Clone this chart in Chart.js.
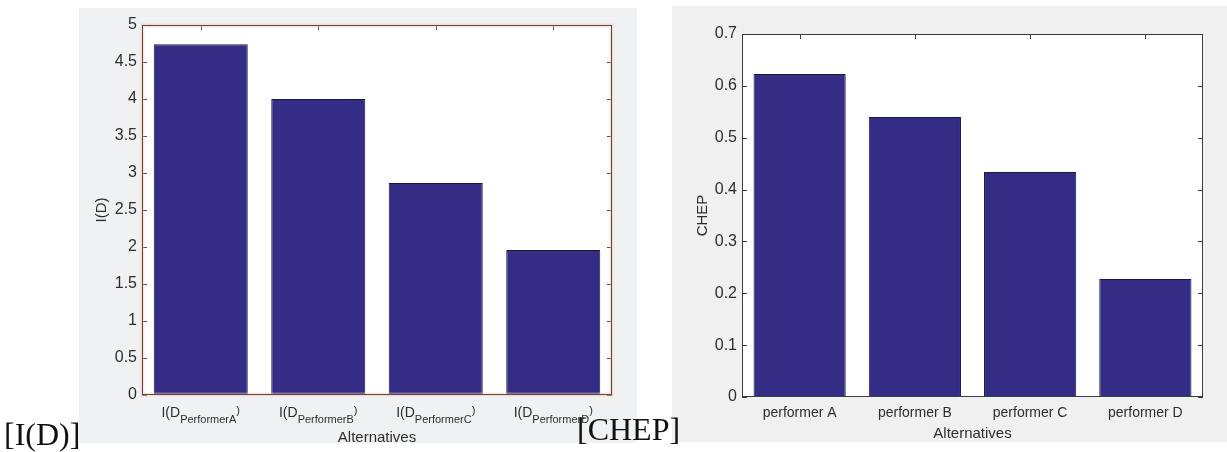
<!DOCTYPE html>
<html lang="en">
<head>
    <meta charset="UTF-8">
    <title>I(D) and CHEP</title>
    <script src="https://cdn.jsdelivr.net/npm/chart.js"></script>
    <style>
        body {
            margin: 0;
            background: #fff;
            width: 1227px;
            height: 452px;
            overflow: hidden;
            position: relative;
            font-family: 'Liberation Sans', Arial, sans-serif;
        }
        .panel {
            position: absolute;
        }
        #leftPanel {
            left: 79px; top: 8px; width: 558px; height: 435px;
            background: #eff1f2;
        }
        #rightPanel {
            left: 672px; top: 6px; width: 555px; height: 436px;
            background: #f0f0f0;
        }
        .tag {
            position: absolute;
            font-family: 'Liberation Serif', 'DejaVu Serif', serif;
            font-size: 32px;
            line-height: 32px;
            color: #111;
        }
    </style>
</head>
<body>

    <div class="panel" id="leftPanel"><canvas id="idChart"></canvas></div>
    <div class="panel" id="rightPanel"><canvas id="chepChart"></canvas></div>
    <div class="tag" style="left: 4px; top: 418px;">[I(D)]</div>
    <div class="tag" style="left: 577px; top: 413px;">[CHEP]</div>

    <script>
        // data
        const idSubscripts = ['PerformerA', 'PerformerB', 'PerformerC', 'PerformerD'];
        const idValues = [4.74, 4.0, 2.865, 1.96];

        const chepLabels = ['performer A', 'performer B', 'performer C', 'performer D'];
        const chepValues = [0.623, 0.540, 0.434, 0.2275];

        const barFill = '#352d85';
        const textColor = '#2e2e2e';
        const sans = "'Liberation Sans', Arial, sans-serif";

        // white plot area, inward ticks (behind bars), box on top
        const boxPlugin = {
            id: 'box',
            beforeDraw(chart) {
                const { ctx, chartArea: a } = chart;
                ctx.save();
                ctx.fillStyle = '#fff';
                ctx.fillRect(a.left, a.top, a.width, a.height);
                ctx.restore();
            },
            beforeDatasetsDraw(chart, args, opts) {
                const { ctx, chartArea: a, scales: { x, y } } = chart;
                const len = 5;
                ctx.save();
                ctx.strokeStyle = opts.color;
                ctx.lineWidth = 1;
                ctx.beginPath();
                y.ticks.forEach((t, i) => {
                    const py = Math.round(y.getPixelForTick(i)) + 0.5;
                    ctx.moveTo(a.left, py); ctx.lineTo(a.left + len, py);
                    ctx.moveTo(a.right, py); ctx.lineTo(a.right - len, py);
                });
                x.ticks.forEach((t, i) => {
                    const px = Math.round(x.getPixelForTick(i)) + 0.5;
                    ctx.moveTo(px, a.top); ctx.lineTo(px, a.top + len);
                    ctx.moveTo(px, a.bottom); ctx.lineTo(px, a.bottom - len);
                });
                ctx.stroke();
                ctx.restore();
            },
            afterDraw(chart, args, opts) {
                const { ctx, chartArea: a } = chart;
                ctx.save();
                if (opts.halo) {
                    ctx.strokeStyle = opts.halo;
                    ctx.lineWidth = 4;
                    ctx.strokeRect(a.left + 0.5, a.top + 0.5, a.width - 1, a.height - 1);
                }
                ctx.strokeStyle = opts.color;
                ctx.lineWidth = 1;
                ctx.strokeRect(a.left + 0.5, a.top + 0.5, a.width - 1, a.height - 1);
                ctx.restore();
            }
        };

        // I(D_PerformerX) labels with subscript
        const subLabelPlugin = {
            id: 'subLabels',
            afterDraw(chart) {
                if (!chart.options.plugins.subLabels.enabled) return;
                const { ctx, chartArea: a, scales: { x } } = chart;
                const base = a.bottom + 22;
                ctx.save();
                ctx.fillStyle = textColor;
                ctx.textBaseline = 'alphabetic';
                ctx.textAlign = 'left';
                idSubscripts.forEach((s, i) => {
                    const cx = x.getPixelForTick(i);
                    ctx.font = '14px ' + sans;
                    const wMain = ctx.measureText('I(D').width;
                    ctx.font = '11px ' + sans;
                    const wSub = ctx.measureText(s).width;
                    const wPar = ctx.measureText(')').width;
                    let px = cx - (wMain + wSub + wPar) / 2;
                    ctx.font = '14px ' + sans;
                    ctx.fillText('I(D', px, base);
                    px += wMain;
                    ctx.font = '11px ' + sans;
                    ctx.fillText(s, px, base + 6);
                    px += wSub;
                    ctx.fillText(')', px, base - 3);
                });
                ctx.restore();
            }
        };

        function fmt(v) {
            return String(+Number(v).toFixed(2));
        }

        function renderChart(canvasId, cfg) {
            const ctx = document.getElementById(canvasId).getContext('2d');
            return new Chart(ctx, {
                type: 'bar',
                data: {
                    labels: cfg.labels,
                    datasets: [{
                        data: cfg.values,
                        backgroundColor: barFill,
                        borderColor: '#1c1a3c',
                        borderWidth: 1,
                        borderSkipped: false,
                        barPercentage: 0.8,
                        categoryPercentage: 1.0
                    }]
                },
                options: {
                    responsive: false,
                    animation: false,
                    maintainAspectRatio: false,
                    layout: { padding: cfg.padding },
                    plugins: {
                        legend: { display: false },
                        tooltip: { enabled: false },
                        box: { color: cfg.axisColor, halo: cfg.halo },
                        subLabels: { enabled: cfg.subLabels }
                    },
                    scales: {
                        x: {
                            grid: { display: false, drawTicks: false },
                            border: { display: false },
                            ticks: {
                                display: !cfg.subLabels,
                                color: textColor,
                                font: { family: sans, size: 14 },
                                padding: 8,
                                maxRotation: 0
                            },
                            title: {
                                display: true,
                                text: 'Alternatives',
                                color: textColor,
                                font: { family: sans, size: 15 },
                                padding: { top: 0, bottom: cfg.xTitlePad }
                            },
                            afterFit: s => { s.height = cfg.xHeight; }
                        },
                        y: {
                            min: 0,
                            max: cfg.yMax,
                            grid: { display: false, drawTicks: false },
                            border: { display: false },
                            ticks: {
                                stepSize: cfg.yStep,
                                color: textColor,
                                font: { family: sans, size: 16 },
                                padding: 5,
                                callback: v => fmt(v)
                            },
                            title: {
                                display: true,
                                text: cfg.yTitle,
                                color: textColor,
                                font: { family: sans, size: 15 },
                                padding: { top: cfg.yTitlePad, bottom: 0 }
                            },
                            afterFit: s => { s.width = cfg.yWidth; }
                        }
                    }
                },
                plugins: [boxPlugin, subLabelPlugin]
            });
        }

        const c1 = document.getElementById('idChart');
        c1.width = 558; c1.height = 435;
        renderChart('idChart', {
            labels: idSubscripts.map(s => 'I(D_' + s + ')'),
            values: idValues,
            yMax: 5,
            yStep: 0.5,
            yTitle: 'I(D)',
            padding: { top: 17, right: 25, left: 0, bottom: 0 },
            yWidth: 63,
            xHeight: 48,
            yTitlePad: 14,
            xTitlePad: -4,
            axisColor: '#5e463f',
            halo: 'rgba(240, 200, 188, 0.45)',
            subLabels: true
        });

        const c2 = document.getElementById('chepChart');
        c2.width = 555; c2.height = 436;
        renderChart('chepChart', {
            labels: chepLabels,
            values: chepValues,
            yMax: 0.7,
            yStep: 0.1,
            yTitle: 'CHEP',
            padding: { top: 28, right: 24, left: 0, bottom: 0 },
            yWidth: 70,
            xHeight: 45,
            yTitlePad: 22,
            xTitlePad: -1,
            axisColor: '#3c3c3c',
            halo: null,
            subLabels: false
        });
    </script>

</body>
</html>
